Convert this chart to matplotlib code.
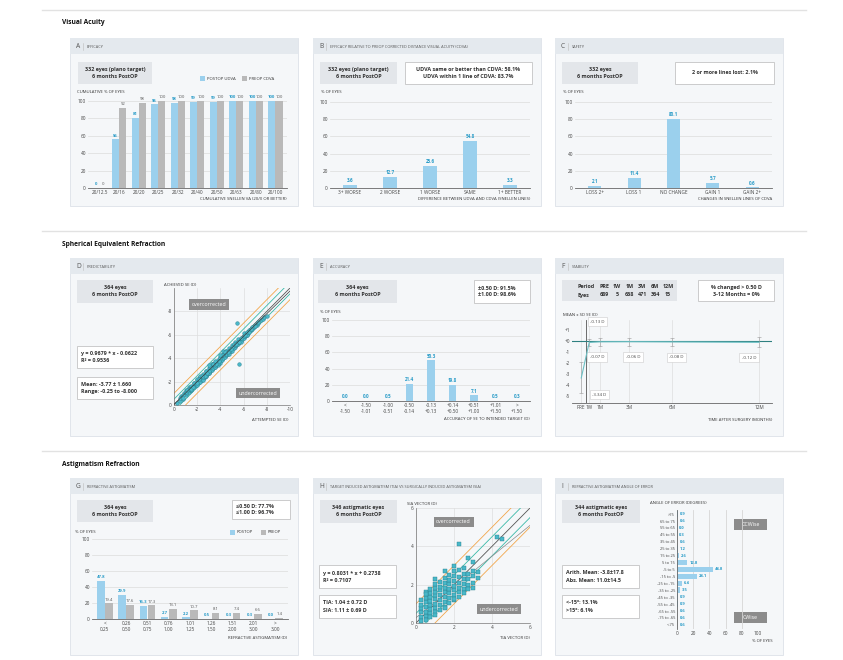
import matplotlib
matplotlib.use('Agg')
import matplotlib.pyplot as plt
from matplotlib.patches import Rectangle
import numpy as np

plt.rcParams['font.family'] = ['Open Sans', 'DejaVu Sans']

# ---------------- data ----------------
A_cats = ['20/12.5', '20/16', '20/20', '20/25', '20/32', '20/40', '20/50', '20/63', '20/80', '20/100']
A_udva = [0, 56, 81, 96, 98, 99, 99, 100, 100, 100]
A_cdva = [0, 92, 98, 100, 100, 100, 100, 100, 100, 100]

B_cats = ['3+ WORSE', '2 WORSE', '1 WORSE', 'SAME', '1+ BETTER']
B_vals = [3.6, 12.7, 25.6, 54.8, 3.3]

C_cats = ['LOSS 2+', 'LOSS 1', 'NO CHANGE', 'GAIN 1', 'GAIN 2+']
C_vals = [2.1, 11.4, 80.1, 5.7, 0.6]

D_attempted = [
    -0.25, -0.50, -0.63, -0.75, -0.88, -1.00, -1.00, -1.13, -1.25, -1.25,
    -1.38, -1.50, -1.50, -1.63, -1.75, -1.75, -1.88, -2.00, -2.00, -2.13,
    -2.25, -2.25, -2.38, -2.50, -2.50, -2.63, -2.75, -2.75, -2.88, -3.00,
    -3.00, -3.13, -3.25, -3.25, -3.38, -3.50, -3.50, -3.63, -3.75, -3.75,
    -3.88, -4.00, -4.00, -4.13, -4.25, -4.25, -4.38, -4.50, -4.50, -4.63,
    -4.75, -4.75, -4.88, -5.00, -5.00, -5.13, -5.25, -5.25, -5.38, -5.50,
    -5.50, -5.63, -5.75, -5.88, -6.00, -6.00, -6.13, -6.25, -6.38, -6.50,
    -6.63, -6.75, -6.88, -7.00, -7.13, -7.25, -7.50, -7.63, -7.75, -8.00,
    -1.50, -2.00, -2.50, -3.00, -3.50, -4.00, -4.50, -5.00, -3.25, -2.75,
    -5.60, -5.40, -4.25, -3.75, -6.25, -1.25, -0.75, -2.25, -4.75, -5.75,
    -0.50, -0.75, -1.00, -1.25, -1.50, -1.75, -2.00, -2.25, -2.50, -2.75,
    -3.00, -3.25, -3.50, -3.75, -4.00, -4.25, -4.50, -4.75, -5.00, -5.25,
    -5.50, -5.75, -6.00, -6.25, -6.50, -6.75, -7.00, -7.25,
    -1.13, -1.63, -2.13, -2.63, -3.13, -3.63, -4.13, -4.63, -5.13, -5.63,
    -6.13, -6.63, -2.38, -2.88, -3.38, -3.88, -4.38, -4.88, -5.38, -3.00,
    -3.50, -4.00]
D_achieved = [
    -0.13, -0.38, -0.75, -0.50, -1.00, -0.88, -1.25, -1.00, -1.13, -1.50,
    -1.25, -1.63, -1.25, -1.50, -1.88, -1.50, -1.75, -2.13, -1.75, -2.00,
    -2.38, -2.00, -2.13, -2.63, -2.25, -2.38, -2.88, -2.50, -2.63, -3.13,
    -2.75, -3.00, -3.38, -3.00, -3.13, -3.63, -3.25, -3.38, -3.88, -3.50,
    -3.63, -4.13, -3.75, -3.88, -4.38, -4.00, -4.13, -4.63, -4.25, -4.38,
    -4.88, -4.50, -4.63, -5.13, -4.75, -4.88, -5.38, -5.00, -5.13, -5.63,
    -5.25, -5.38, -5.50, -5.63, -6.13, -5.75, -5.88, -6.00, -6.13, -6.38,
    -6.38, -6.50, -6.63, -6.88, -6.88, -7.00, -7.25, -7.38, -7.50, -7.63,
    -1.25, -2.25, -2.13, -2.75, -3.25, -3.63, -4.38, -4.63, -3.50, -2.50,
    -3.50, -7.00, -4.63, -3.38, -6.00, -1.38, -0.88, -2.38, -4.38, -5.38,
    -0.63, -0.63, -1.13, -1.38, -1.38, -1.88, -1.88, -2.50, -2.38, -2.88,
    -2.88, -3.50, -3.38, -3.63, -4.00, -4.25, -4.63, -4.63, -5.00, -5.13,
    -5.38, -5.75, -5.88, -6.25, -6.25, -6.63, -6.75, -7.13,
    -1.25, -1.50, -2.25, -2.50, -3.25, -3.50, -4.25, -4.50, -5.25, -5.38,
    -6.00, -6.50, -2.50, -2.75, -3.50, -3.75, -4.50, -4.75, -5.25, -3.38,
    -3.75, -4.25]
D_fit = (0.9679, -0.0622)

E_cats = ['<\n-1.50', '-1.50\n-1.01', '-1.00\n-0.51', '-0.50\n-0.14', '-0.13\n+0.13',
          '+0.14\n+0.50', '+0.51\n+1.00', '+1.01\n+1.50', '>\n+1.50']
E_vals = [0.0, 0.0, 0.5, 21.4, 50.3, 19.8, 7.1, 0.5, 0.3]

F_periods = ['PRE', '1W', '1M', '3M', '6M', '12M']
F_eyes = [689, 5, 668, 471, 364, 15]
F_months = [-0.3, 0.25, 1, 3, 6, 12]
F_mean = [-3.34, -0.13, -0.07, -0.06, -0.08, -0.12]
F_sd = [1.40, 0.35, 0.35, 0.35, 0.35, 0.45]

G_cats = ['<\n0.25', '0.26\n0.50', '0.51\n0.75', '0.76\n1.00', '1.01\n1.25',
          '1.26\n1.50', '1.51\n2.00', '2.01\n3.00', '>\n3.00']
G_post = [47.8, 29.9, 16.3, 2.7, 2.2, 0.5, 0.3, 0.3, 0.0]
G_pre = [19.4, 17.6, 17.3, 13.1, 10.7, 8.1, 7.4, 6.6, 1.4]

H_tia = [
    0.25, 0.25, 0.25, 0.25, 0.50, 0.50, 0.50, 0.50, 0.50, 0.75, 0.75, 0.75, 0.75, 0.75, 0.75,
    1.00, 1.00, 1.00, 1.00, 1.00, 1.00, 1.25, 1.25, 1.25, 1.25, 1.25, 1.50, 1.50, 1.50, 1.50, 1.50,
    1.75, 1.75, 1.75, 1.75, 1.75, 2.00, 2.00, 2.00, 2.00, 2.00, 2.25, 2.25, 2.25, 2.25,
    2.50, 2.50, 2.50, 2.50,
    2.75, 2.75, 2.75, 3.00, 3.00, 3.00, 3.25, 3.25,
    1.00, 2.25, 2.00, 3.00, 4.25, 4.50, 1.50, 2.75, 0.50,
    0.25, 0.50, 0.75, 1.00, 1.25, 1.50, 1.75, 2.00, 2.25, 2.50, 2.75, 3.00,
    0.50, 0.75, 1.00, 1.25, 1.50, 1.75, 2.00, 2.25, 2.50,
    0.25, 1.00, 1.50, 2.00]
H_sia = [
    0.30, 0.55, 0.80, 0.95, 0.35, 0.60, 0.85, 1.10, 1.30, 0.50, 0.75, 0.95, 1.15, 1.35, 1.55,
    0.80, 1.00, 1.25, 1.45, 1.60, 1.85, 0.95, 1.20, 1.45, 1.70, 1.90, 1.10, 1.35, 1.60, 1.85, 2.10,
    1.30, 1.55, 1.80, 2.05, 2.25, 1.45, 1.70, 1.95, 2.20, 2.45, 1.60, 1.85, 2.10, 2.40,
    1.80, 2.05, 2.30, 2.55,
    2.00, 2.30, 2.55, 2.10, 2.45, 2.70, 2.35, 2.65,
    2.30, 4.10, 3.00, 3.20, 4.50, 4.40, 2.70, 3.40, 1.60,
    0.10, 0.15, 0.30, 0.55, 0.70, 0.85, 1.05, 1.20, 1.35, 1.55, 1.75, 1.85,
    1.50, 1.75, 2.05, 2.15, 2.35, 2.50, 2.70, 2.75, 2.85,
    1.20, 0.40, 0.80, 1.25]
H_fit = (0.8031, 0.2738)

I_cats = ['>75', '65 to 75', '55 to 65', '45 to 55', '35 to 45', '25 to 35', '15 to 25', '5 to 15',
          '-5 to 5', '-15 to -5', '-25 to -15', '-35 to -25', '-45 to -35', '-55 to -45',
          '-65 to -55', '-75 to -65', '<-75']
I_vals = [0.9, 0.6, 0.0, 0.3, 0.6, 1.2, 2.6, 12.8, 44.8, 24.1, 6.4, 3.5, 0.9, 0.9, 0.6, 0.6, 0.6]

# ---------------- style ----------------
BLUE = '#9bd0ed'
BLUE_T = '#2a9cc8'
GRAY = '#b9b9b9'
GRAY_T = '#555555'
TXT = '#333333'
TS = 3.4   # tick size
VS = 3.3   # value label size

W, H = 843, 660
fig = plt.figure(figsize=(W / 100, H / 100), dpi=100)
fig.patch.set_facecolor('white')
bg = fig.add_axes([0, 0, 1, 1])
bg.set_xlim(0, W)
bg.set_ylim(H, 0)
bg.axis('off')


def add_ax(x0, y0, x1, y1):
    ax = fig.add_axes([x0 / W, 1 - y1 / H, (x1 - x0) / W, (y1 - y0) / H])
    ax.set_facecolor('none')
    for s in ax.spines.values():
        s.set_visible(False)
    ax.tick_params(labelsize=TS, length=0, colors='#444444', pad=1.5)
    return ax


def section(y, title):
    bg.plot([42, 806], [y, y], color='#e2e2e2', lw=1.0)
    bg.text(62, y + 13, title, fontsize=4.8, fontweight='bold', color='#111111', va='center')


def panel(x0, y0, x1, y1, letter, title):
    bg.add_patch(Rectangle((x0, y0), x1 - x0, y1 - y0, fc='#f5f7f9', ec='#dde2e8', lw=0.6))
    bg.add_patch(Rectangle((x0, y0), x1 - x0, 16, fc='#e4e9ee', ec='none'))
    bg.text(x0 + 6, y0 + 8.5, letter, fontsize=4.8, color='#555555', va='center')
    bg.plot([x0 + 13, x0 + 13], [y0 + 5, y0 + 12], color='#bbbbbb', lw=0.4)
    bg.text(x0 + 17, y0 + 8.5, title, fontsize=2.8, color='#555555', va='center')


def gbox(x0, y0, x1, y1, text, fs=3.9):
    bg.add_patch(Rectangle((x0, y0), x1 - x0, y1 - y0, fc='#e3e6ea', ec='none'))
    bg.text((x0 + x1) / 2, (y0 + y1) / 2, text, fontsize=fs, fontweight='bold', color=TXT,
            ha='center', va='center', linespacing=1.5)


def wbox(x0, y0, x1, y1, text, fs=3.9, ha='center', tx=None):
    bg.add_patch(Rectangle((x0, y0), x1 - x0, y1 - y0, fc='white', ec='#c4c4c4', lw=0.6))
    xx = (x0 + x1) / 2 if tx is None else tx
    bg.text(xx, (y0 + y1) / 2, text, fontsize=fs, fontweight='bold', color=TXT,
            ha=ha, va='center', linespacing=1.5)


def darkbox(ax, x, y, text):
    ax.text(x, y, text, fontsize=3.8, color='white', ha='center', va='center',
            transform=ax.transAxes,
            bbox=dict(boxstyle='square,pad=0.5', fc='#8c8c8c', ec='none'))


def small(x, y, text, ha='left'):
    bg.text(x, y, text, fontsize=3.1, color=TXT, ha=ha, va='center')


def ygrid(ax):
    ax.yaxis.grid(True, color='#dcdcdc', lw=0.5)
    ax.set_axisbelow(True)
    ax.spines['bottom'].set_visible(True)
    ax.spines['bottom'].set_color('#666666')
    ax.spines['bottom'].set_linewidth(0.6)


# ---------------- sections ----------------
section(10, 'Visual Acuity')
section(231, 'Spherical Equivalent Refraction')
section(451, 'Astigmatism Refraction')

# ---------------- A ----------------
panel(70, 38, 298, 206, 'A', 'EFFICACY')
gbox(78, 62, 152, 84, '332 eyes (plano target)\n6 months PostOP')
bg.add_patch(Rectangle((200, 76), 5, 5, fc=BLUE, ec='none'))
small(207, 78.5, 'POSTOP UDVA')
bg.add_patch(Rectangle((242, 76), 5, 5, fc=GRAY, ec='none'))
small(249, 78.5, 'PREOP CDVA')
small(77, 92, 'CUMULATIVE % OF EYES')
ax = add_ax(88, 101, 287, 188)
x = np.arange(len(A_cats))
ax.bar(x - 0.19, A_udva, 0.36, color=BLUE)
ax.bar(x + 0.19, A_cdva, 0.36, color=GRAY)
for xi, u, c in zip(x, A_udva, A_cdva):
    ax.text(xi - 0.19, u + 2, f'{u}', fontsize=VS - 0.2, color=BLUE_T, ha='center', va='bottom', fontweight='bold')
    ax.text(xi + 0.19, c + 2, f'{c}', fontsize=VS - 0.2, color=GRAY_T, ha='center', va='bottom')
ax.set_xlim(-0.6, len(A_cats) - 0.4)
ax.set_ylim(0, 100)
ax.set_yticks([0, 20, 40, 60, 80, 100])
ax.set_xticks(x)
ax.set_xticklabels(A_cats)
ygrid(ax)
small(287, 199, 'CUMULATIVE SNELLEN VA (20/X OR BETTER)', ha='right')

# ---------------- B ----------------
panel(313, 38, 541, 206, 'B', 'EFFICACY RELATIVE TO PREOP CORRECTED DISTANCE VISUAL ACUITY (CDVA)')
gbox(320, 62, 397, 84, '332 eyes (plano target)\n6 months PostOP')
wbox(405, 62, 532, 84, 'UDVA same or better than CDVA: 58.1%\nUDVA within 1 line of CDVA: 83.7%')
small(321, 92, '% OF EYES')
ax = add_ax(330, 102, 530, 188)
x = np.arange(len(B_cats))
ax.bar(x, B_vals, 0.33, color=BLUE)
for xi, v in zip(x, B_vals):
    ax.text(xi, v + 2, f'{v}', fontsize=VS, color=BLUE_T, ha='center', va='bottom', fontweight='bold')
ax.set_xlim(-0.5, len(B_cats) - 0.5)
ax.set_ylim(0, 100)
ax.set_yticks([0, 20, 40, 60, 80, 100])
ax.set_xticks(x)
ax.set_xticklabels(B_cats)
ygrid(ax)
small(530, 199, 'DIFFERENCE BETWEEN UDVA AND CDVA (SNELLEN LINES)', ha='right')

# ---------------- C ----------------
panel(555, 38, 783, 206, 'C', 'SAFETY')
gbox(562, 62, 638, 84, '332 eyes\n6 months PostOP')
wbox(675, 62, 774, 84, '2 or more lines lost: 2.1%')
small(563, 92, '% OF EYES')
ax = add_ax(575, 102, 772, 188)
x = np.arange(len(C_cats))
ax.bar(x, C_vals, 0.33, color=BLUE)
for xi, v in zip(x, C_vals):
    ax.text(xi, v + 2, f'{v}', fontsize=VS, color=BLUE_T, ha='center', va='bottom', fontweight='bold')
ax.set_xlim(-0.5, len(C_cats) - 0.5)
ax.set_ylim(0, 100)
ax.set_yticks([0, 20, 40, 60, 80, 100])
ax.set_xticks(x)
ax.set_xticklabels(C_cats)
ygrid(ax)
small(772, 199, 'CHANGES IN SNELLEN LINES OF CDVA', ha='right')

# ---------------- D ----------------
panel(70, 258, 298, 436, 'D', 'PREDICTABILITY')
gbox(77, 280, 153, 303, '364 eyes\n6 months PostOP')
wbox(77, 346, 153, 368, 'y = %.4f * x - %.4f\nR² = 0.9536' % (D_fit[0], -D_fit[1]), ha='left', tx=81)
wbox(77, 377, 153, 399, 'Mean: -3.77 ± 1.660\nRange: -0.25 to -8.000', ha='left', tx=81)
small(164, 285, 'ACHIEVED SE (D)')
ax = add_ax(174, 288, 290, 405)
ax.set_xlim(0, -10)
ax.set_ylim(0, -10)
ax.set_xticks([0, -2, -4, -6, -8, -10])
ax.set_xticklabels(['0', '-2', '-4', '-6', '-8', '-10'])
ax.set_yticks([0, -2, -4, -6, -8])
ax.set_yticklabels(['0', '-2', '-4', '-6', '-8'])
ax.grid(True, color='#dedede', lw=0.5)
ax.set_axisbelow(True)
for s in ['bottom', 'left']:
    ax.spines[s].set_visible(True)
    ax.spines[s].set_color('#777777')
    ax.spines[s].set_linewidth(0.5)
for off, col in [(1.0, '#f2a64b'), (-1.0, '#f2a64b'), (0.5, '#39b9a8'), (-0.5, '#39b9a8')]:
    ax.axline((0, off), slope=1, color=col, lw=0.6, zorder=2)
ax.axline((0, 0), slope=1, color='#555555', lw=0.6, zorder=2)
ax.scatter(D_attempted, D_achieved, s=7, c='#49b8c9', edgecolors='#2b7f8e', linewidths=0.3, zorder=3)
ax.axline((0, D_fit[1]), slope=D_fit[0], color='#3a3a3a', lw=0.5, zorder=4)
darkbox(ax, 0.30, 0.86, 'overcorrected')
darkbox(ax, 0.72, 0.10, 'undercorrected')
small(288, 420, 'ATTEMPTED SE (D)', ha='right')

# ---------------- E ----------------
panel(313, 258, 541, 436, 'E', 'ACCURACY')
gbox(318, 280, 397, 303, '364 eyes\n6 months PostOP')
wbox(474, 280, 530, 303, '±0.50 D: 91.5%\n±1.00 D: 98.6%', ha='left', tx=478)
small(320, 312, '% OF EYES')
ax = add_ax(332, 320, 530, 401)
x = np.arange(len(E_cats))
ax.bar(x, E_vals, 0.36, color=BLUE)
for xi, v in zip(x, E_vals):
    ax.text(xi, v + 2, f'{v}', fontsize=VS, color=BLUE_T, ha='center', va='bottom', fontweight='bold')
ax.set_xlim(-0.6, len(E_cats) - 0.4)
ax.set_ylim(0, 100)
ax.set_yticks([0, 20, 40, 60, 80, 100])
ax.set_xticks(x)
ax.set_xticklabels(E_cats, linespacing=1.2)
ygrid(ax)
small(530, 419, 'ACCURACY OF SE TO INTENDED TARGET (D)', ha='right')

# ---------------- F ----------------
panel(555, 258, 783, 436, 'F', 'STABILITY')
bg.add_patch(Rectangle((562, 280), 115, 21, fc='#e3e6ea', ec='none'))
bg.text(577, 286, 'Period', fontsize=3.9, fontweight='bold', color=TXT, va='center')
bg.text(577, 295, 'Eyes', fontsize=3.9, fontweight='bold', color=TXT, va='center')
for i, (p, e) in enumerate(zip(F_periods, F_eyes)):
    cx = 604 + i * 12.8
    bg.text(cx, 286, p, fontsize=3.9, fontweight='bold', color=TXT, ha='center', va='center')
    bg.text(cx, 295, str(e), fontsize=3.9, fontweight='bold', color=TXT, ha='center', va='center')
wbox(698, 280, 774, 301, '% changed > 0.50 D\n3-12 Months = 0%')
small(563, 315, 'MEAN ± SD SE (D)')
ax = add_ax(572, 320, 772, 403)
ax.set_xlim(-0.94, 12.9)
ax.set_ylim(-5.6, 1.9)
ax.set_yticks([1, 0, -1, -2, -3, -4, -5])
ax.set_yticklabels(['+1', '+0', '-1', '-2', '-3', '-4', '-5'])
ax.set_xticks(F_months)
ax.set_xticklabels(['PRE', '1W', '1M', '3M', '6M', '12M'])
ax.xaxis.grid(True, color='#dedede', lw=0.5)
ax.spines['bottom'].set_visible(True)
ax.spines['bottom'].set_color('#666666')
ax.spines['bottom'].set_linewidth(0.6)
ax.axvline(0, color='#555555', lw=0.6)
ax.axhline(0, color='#2e8080', lw=0.8)
ax.errorbar(F_months, F_mean, yerr=F_sd, color='#6cc0c4', lw=0.8, ecolor='#999999',
            elinewidth=0.4, capsize=1.2, capthick=0.4, zorder=3)
lab_off = [(13, -12), (6, 15), (-2, -11), (3, -11), (3, -11), (-7, -11)]
for mx, mv, (dx, dy) in zip(F_months, F_mean, lab_off):
    ax.annotate(f'{mv:.2f} D', (mx, mv), xytext=(dx, dy), textcoords='offset points',
                fontsize=3.2, color='#444444', ha='center', va='center',
                bbox=dict(boxstyle='square,pad=0.6', fc='white', ec='#cccccc', lw=0.4))
small(772, 420, 'TIME AFTER SURGERY (MONTHS)', ha='right')

# ---------------- G ----------------
panel(70, 478, 298, 655, 'G', 'REFRACTIVE ASTIGMATISM')
gbox(77, 500, 153, 522, '364 eyes\n6 months PostOP')
wbox(232, 500, 290, 519, '≤0.50 D: 77.7%\n≤1.00 D: 96.7%', ha='left', tx=236)
small(75, 532, '% OF EYES')
bg.add_patch(Rectangle((230, 529.5), 5, 5, fc=BLUE, ec='none'))
small(237, 532, 'POSTOP')
bg.add_patch(Rectangle((261, 529.5), 5, 5, fc=GRAY, ec='none'))
small(268, 532, 'PREOP')
ax = add_ax(92, 539, 288, 619)
x = np.arange(len(G_cats))
ax.bar(x - 0.19, G_post, 0.36, color=BLUE)
ax.bar(x + 0.19, G_pre, 0.36, color=GRAY)
for xi, u, c in zip(x, G_post, G_pre):
    ax.text(xi - 0.19, u + 2, f'{u}', fontsize=VS - 0.2, color=BLUE_T, ha='center', va='bottom', fontweight='bold')
    ax.text(xi + 0.19, c + 2, f'{c}', fontsize=VS - 0.2, color=GRAY_T, ha='center', va='bottom')
ax.set_xlim(-0.6, len(G_cats) - 0.4)
ax.set_ylim(0, 100)
ax.set_yticks([0, 20, 40, 60, 80, 100])
ax.set_xticks(x)
ax.set_xticklabels(G_cats, linespacing=1.2)
ygrid(ax)
small(287, 638, 'REFRACTIVE ASTIGMATISM (D)', ha='right')

# ---------------- H ----------------
panel(313, 478, 541, 655, 'H', 'TARGET INDUCED ASTIGMATISM (TIA) VS SURGICALLY INDUCED ASTIGMATISM (SIA)')
gbox(320, 500, 397, 523, '346 astigmatic eyes\n6 months PostOP')
wbox(319, 565, 396, 588, 'y = %.4f * x + %.4f\nR² = 0.7107' % H_fit, ha='left', tx=323)
wbox(319, 595, 396, 618, 'TIA: 1.04 ± 0.72 D\nSIA: 1.11 ± 0.69 D', ha='left', tx=323)
small(407, 504, 'SIA VECTOR (D)')
ax = add_ax(416, 508, 530, 623)
ax.set_xlim(0, 6)
ax.set_ylim(0, 6)
ax.set_xticks([0, 2, 4, 6])
ax.set_yticks([0, 2, 4, 6])
ax.grid(True, color='#dedede', lw=0.5)
ax.set_axisbelow(True)
for s in ['bottom', 'left']:
    ax.spines[s].set_visible(True)
    ax.spines[s].set_color('#777777')
    ax.spines[s].set_linewidth(0.5)
for off, col in [(1.0, '#f2a64b'), (-1.0, '#f2a64b'), (0.5, '#39b9a8'), (-0.5, '#39b9a8')]:
    ax.axline((0, off), slope=1, color=col, lw=0.6, zorder=2)
ax.axline((0, 0), slope=1, color='#555555', lw=0.6, zorder=2)
ax.axline((0, H_fit[1]), slope=H_fit[0], color='#8a8a8a', lw=0.5, zorder=2)
ax.scatter(H_tia, H_sia, s=5, marker='s', c='#49b8c9', edgecolors='#2b7f8e', linewidths=0.3, zorder=3)
darkbox(ax, 0.33, 0.88, 'overcorrected')
darkbox(ax, 0.73, 0.12, 'undercorrected')
small(530, 638, 'TIA VECTOR (D)', ha='right')

# ---------------- I ----------------
panel(555, 478, 783, 655, 'I', 'REFRACTIVE ASTIGMATISM ANGLE OF ERROR')
gbox(562, 500, 640, 523, '344 astigmatic eyes\n6 months PostOP')
wbox(562, 565, 639, 588, 'Arith. Mean: -3.8±17.8\nAbs. Mean: 11.0±14.5', ha='left', tx=566)
wbox(562, 595, 639, 618, '<-15°: 13.1%\n>15°: 6.1%', ha='left', tx=566)
small(650, 503, 'ANGLE OF ERROR (DEGREES)')
ax = add_ax(677, 510, 758, 629)
y = np.arange(len(I_cats))
ax.barh(y, I_vals, 0.8, color=BLUE)
for yi, v in zip(y, I_vals):
    ax.text(v + 2.5, yi, f'{v}', fontsize=3.0, color=BLUE_T, ha='left', va='center', fontweight='bold')
ax.set_ylim(len(I_cats) - 0.4, -0.6)
ax.set_xlim(0, 100)
ax.set_xticks([0, 20, 40, 60, 80, 100])
ax.set_yticks(y)
ax.set_yticklabels(I_cats, fontsize=2.9)
ax.xaxis.grid(True, color='#d6d6d6', lw=0.6)
ax.set_axisbelow(True)
ax.spines['left'].set_visible(True)
ax.spines['left'].set_color('#666666')
ax.spines['left'].set_linewidth(0.6)
bg.add_patch(Rectangle((734, 519), 33, 11, fc='#8c8c8c', ec='none'))
bg.text(750.5, 524.5, 'CCWise', fontsize=3.8, color='white', ha='center', va='center')
bg.add_patch(Rectangle((734, 612), 33, 11, fc='#8c8c8c', ec='none'))
bg.text(750.5, 617.5, 'CWise', fontsize=3.8, color='white', ha='center', va='center')
small(773, 641, '% OF EYES', ha='right')

fig.savefig('out.png', dpi=100, facecolor='white')
